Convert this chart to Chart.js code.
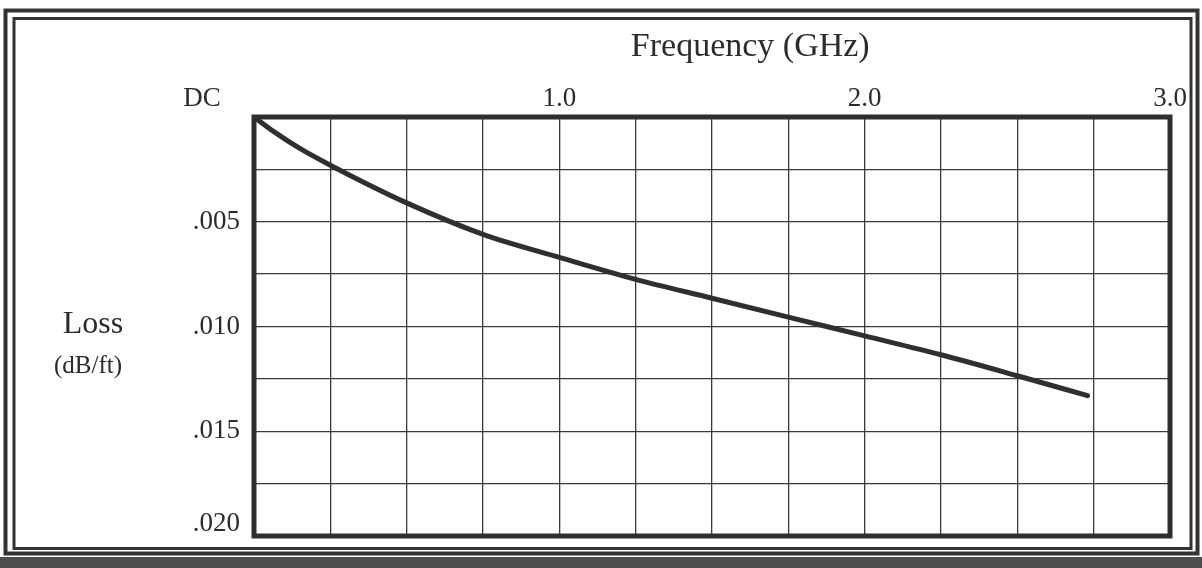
<!DOCTYPE html>
<html>
<head>
<meta charset="utf-8">
<title>Loss vs Frequency</title>
<script src="https://cdn.jsdelivr.net/npm/chart.js@4/dist/chart.umd.min.js"></script>
<style>
  html, body { margin: 0; padding: 0; background: #fff; }
  canvas { display: block; }
</style>
</head>
<body>
<canvas id="lossChart" width="1202" height="568"></canvas>
<script>
// frequency (GHz) and loss (dB/ft)
var freq = [0, 0.065, 0.15, 0.25, 0.5, 0.75, 1.0, 1.25, 1.5, 1.75, 2.0, 2.25, 2.5, 2.73];
var loss = [0, 0.0007, 0.0015, 0.0023, 0.0041, 0.0056, 0.0067, 0.00775, 0.00865, 0.00955, 0.01045, 0.01135, 0.01235, 0.0133];

var xTicks = [0, 1, 2, 3];
var xTickLabels = ["DC", "1.0", "2.0", "3.0"];
var yTicks = [0.005, 0.01, 0.015, 0.02];
var yTickLabels = [".005", ".010", ".015", ".020"];

var serif = "'Liberation Serif', 'DejaVu Serif', serif";
var ink = "#2b2b2b";

// 외곽 테두리, 플롯 테두리, Loss 라벨
var framePlugin = {
  id: "frame",
  beforeDraw: function (chart) {
    var c = chart.ctx;
    c.save();
    c.fillStyle = "#fff";
    c.fillRect(0, 0, chart.width, chart.height);
    // 스캔된 아래쪽 어두운 띠
    c.fillStyle = "#4d4d4d";
    c.fillRect(0, 557, chart.width, chart.height - 557);
    c.strokeStyle = "#333";
    c.lineWidth = 4;
    c.strokeRect(5.5, 10.5, 1192, 543);
    c.lineWidth = 3;
    c.strokeRect(14, 18.5, 1177, 530);
    c.restore();
  },
  afterDraw: function (chart) {
    var a = chart.chartArea;
    var c = chart.ctx;
    c.save();
    c.strokeStyle = "#2e2e2e";
    c.lineWidth = 5;
    c.strokeRect(a.left, a.top, a.right - a.left, a.bottom - a.top);
    c.fillStyle = ink;
    c.textAlign = "center";
    c.textBaseline = "alphabetic";
    c.font = "32px " + serif;
    c.fillText("Loss", 93, 333);
    c.font = "25px " + serif;
    c.fillText("(dB/ft)", 88, 373);
    c.restore();
  },
};

var ctx = document.getElementById("lossChart").getContext("2d");

var chart = new Chart(ctx, {
  type: "line",
  data: {
    datasets: [
      {
        data: freq.map(function (f, i) {
          return { x: f, y: loss[i] };
        }),
        borderColor: "#2f2f2f",
        borderWidth: 5,
        borderCapStyle: "round",
        pointRadius: 0,
        cubicInterpolationMode: "monotone",
        fill: false,
      },
    ],
  },
  options: {
    responsive: false,
    animation: false,
    layout: { padding: { top: 0, left: 0, right: 32, bottom: 32 } },
    plugins: {
      legend: { display: false },
      tooltip: { enabled: false },
    },
    scales: {
      // 격자용 축
      x: {
        type: "linear",
        position: "top",
        min: 0,
        max: 3,
        ticks: { display: false, stepSize: 0.25 },
        grid: { color: "#3a3a3a", lineWidth: 1.3, drawTicks: false },
        border: { display: false },
        afterFit: function (s) { s.height = 0; },
      },
      // 라벨용 축
      x2: {
        type: "linear",
        position: "top",
        min: 0,
        max: 3,
        grid: { display: false, drawTicks: false },
        border: { display: false },
        afterBuildTicks: function (s) {
          // DC 라벨은 축 시작점 왼쪽에 놓임
          s.ticks = xTicks.map(function (v) {
            return { value: v === 0 ? -0.17 : v };
          });
        },
        ticks: {
          autoSkip: false,
          maxRotation: 0,
          padding: 2,
          color: ink,
          font: { family: serif, size: 27 },
          callback: function (v, i) { return xTickLabels[i]; },
        },
        title: {
          display: true,
          text: "         Frequency (GHz)",
          color: ink,
          font: { family: serif, size: 34 },
          padding: { top: 27, bottom: 0 },
        },
        afterFit: function (s) { s.height = 117; },
      },
      y: {
        type: "linear",
        position: "left",
        reverse: true,
        min: 0,
        max: 0.02,
        ticks: { display: false, stepSize: 0.0025 },
        grid: { color: "#3a3a3a", lineWidth: 1.3, drawTicks: false },
        border: { display: false },
        afterFit: function (s) { s.width = 0; },
      },
      y2: {
        type: "linear",
        position: "left",
        reverse: true,
        min: 0,
        max: 0.02,
        grid: { display: false, drawTicks: false },
        border: { display: false },
        afterBuildTicks: function (s) {
          // 맨 아래 .020 라벨은 테두리 안쪽으로 조금 올라가 있음
          s.ticks = yTicks.map(function (v) {
            return { value: v === 0.02 ? 0.0194 : v };
          });
        },
        ticks: {
          autoSkip: false,
          padding: 14,
          color: ink,
          font: { family: serif, size: 27 },
          callback: function (v, i) { return yTickLabels[i]; },
        },
        afterFit: function (s) { s.width = 254; },
      },
    },
  },
  plugins: [framePlugin],
});
</script>
</body>
</html>
